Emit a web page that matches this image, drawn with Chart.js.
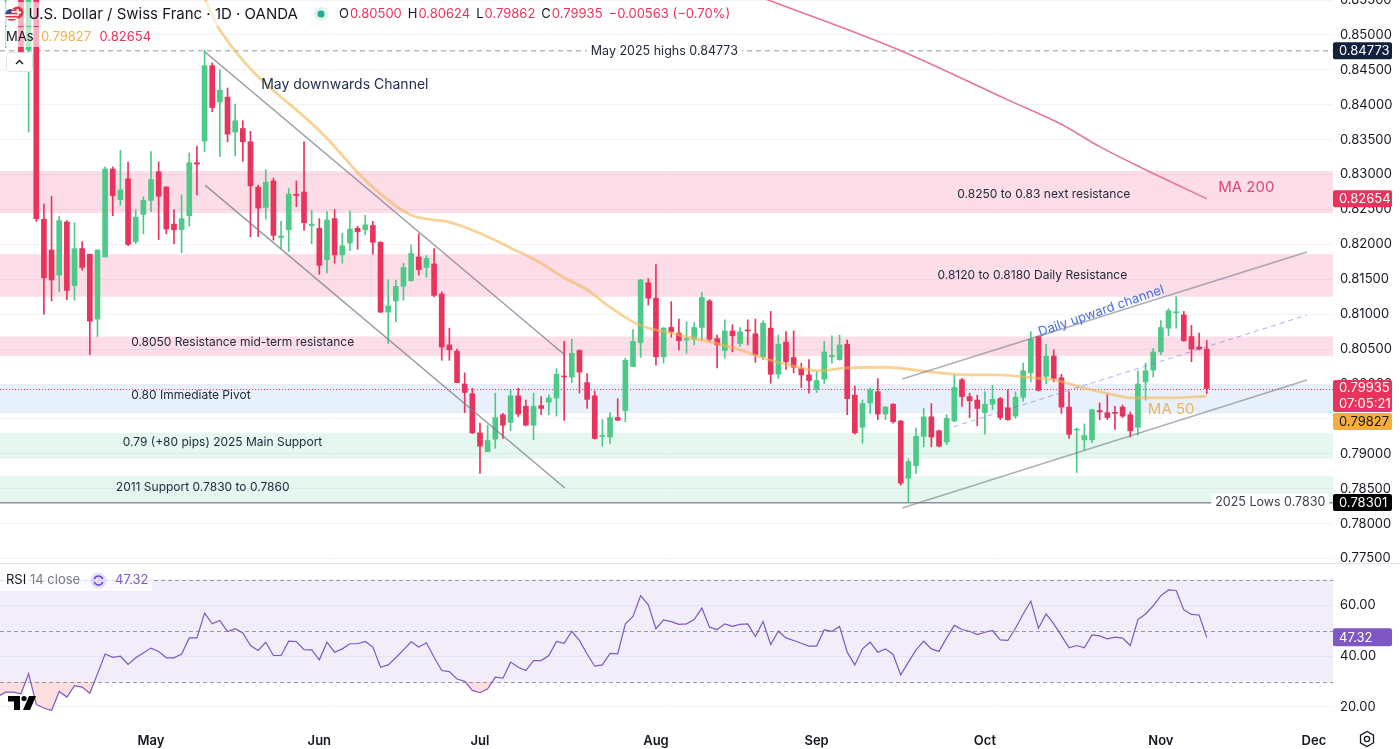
<!DOCTYPE html>
<html>
<head>
<meta charset="utf-8">
<title>USD/CHF 1D</title>
<script src="https://cdn.jsdelivr.net/npm/chart.js@4.4.1/dist/chart.umd.min.js"></script>
<style>
  html, body { margin: 0; padding: 0; background: #fff; }
  #wrap { position: relative; width: 1400px; height: 749px; overflow: hidden; }
  #priceCanvas { position: absolute; left: 0; top: 0; }
  #rsiCanvas { position: absolute; left: 0; top: 564px; }
  #sep { position: absolute; left: 0; top: 563px; width: 1400px; height: 1px; background: #e0e3eb; }
</style>
</head>
<body>
<div id="wrap">
  <canvas id="priceCanvas" width="1400" height="563"></canvas>
  <div id="sep"></div>
  <canvas id="rsiCanvas" width="1400" height="185"></canvas>
</div>
<script>
const FONT = 'Inter, "Noto Sans", "DejaVu Sans", sans-serif';
const GREEN = '#4fc987';
const RED = '#e8335c';
const TEXT = '#131722';
const NOTE = '#222a3d';

// bar 0 = 1 May 2025, one bar per trading day; first bar is 3 Apr 2025
const firstBar = -20;

const opens = [
  0.8680, 0.8580, 0.8660, 0.8700, 0.8479, 0.8620, 0.8236, 0.8192, 0.8156, 0.8232,
  0.8141, 0.8194, 0.8186, 0.8093, 0.8182, 0.8308, 0.8264, 0.8294, 0.8204, 0.8243,
  0.8263, 0.8304, 0.8282, 0.8229, 0.8221, 0.8241, 0.8317, 0.8348, 0.8456, 0.8404,
  0.8411, 0.8361, 0.8366, 0.8347, 0.8282, 0.8253, 0.8291, 0.8210, 0.8221, 0.8272,
  0.8275, 0.8227, 0.8223, 0.8178, 0.8237, 0.8185, 0.8202, 0.8223, 0.8221, 0.8227,
  0.8203, 0.8103, 0.8119, 0.8140, 0.8148, 0.8182, 0.8167, 0.8172, 0.8129, 0.8056,
  0.8047, 0.8000, 0.7986, 0.7930, 0.7903, 0.7921, 0.7956, 0.7945, 0.7983, 0.7968,
  0.7941, 0.7969, 0.7974, 0.7980, 0.8011, 0.8010, 0.8048, 0.8002, 0.7983, 0.7925,
  0.7924, 0.7952, 0.7962, 0.8025, 0.8059, 0.8145, 0.8123, 0.8039, 0.8081, 0.8073,
  0.8063, 0.8064, 0.8081, 0.8119, 0.8065, 0.8048, 0.8076, 0.8058, 0.8077, 0.8072,
  0.8039, 0.8080, 0.8014, 0.8060, 0.8038, 0.8022, 0.8013, 0.7992, 0.8007, 0.8039,
  0.8035, 0.8057, 0.7984, 0.7938, 0.7973, 0.7989, 0.7957, 0.7971, 0.7947, 0.7865,
  0.7883, 0.7925, 0.7953, 0.7933, 0.7917, 0.7947, 0.8006, 0.7982, 0.7977, 0.7959,
  0.7971, 0.7979, 0.7966, 0.7954, 0.7981, 0.8016, 0.8068, 0.8011, 0.8040, 0.8009,
  0.7967, 0.7934, 0.7920, 0.7920, 0.7962, 0.7959, 0.7959, 0.7967, 0.7956, 0.7938,
  0.8003, 0.8020, 0.8046, 0.8080, 0.8102, 0.8099, 0.8068, 0.8053, 0.80500
];
const highs = [
  0.8750, 0.8700, 0.8740, 0.8720, 0.8660, 0.8640, 0.8258, 0.8269, 0.8240, 0.8234,
  0.8231, 0.8204, 0.8186, 0.8192, 0.8311, 0.8311, 0.8335, 0.8318, 0.8250, 0.8268,
  0.8333, 0.8318, 0.8283, 0.8250, 0.8271, 0.8331, 0.8341, 0.8478, 0.8460, 0.8450,
  0.8424, 0.8401, 0.8377, 0.8362, 0.8285, 0.8307, 0.8295, 0.8233, 0.8280, 0.8291,
  0.8347, 0.8249, 0.8237, 0.8247, 0.8250, 0.8216, 0.8248, 0.8226, 0.8242, 0.8233,
  0.8204, 0.8149, 0.8149, 0.8173, 0.8199, 0.8215, 0.8184, 0.8194, 0.8132, 0.8080,
  0.8050, 0.8016, 0.7994, 0.7944, 0.7941, 0.7987, 0.7958, 0.7991, 0.7994, 0.7977,
  0.7987, 0.7982, 0.7984, 0.8022, 0.8061, 0.8064, 0.8049, 0.8015, 0.7990, 0.7949,
  0.7959, 0.7979, 0.8037, 0.8078, 0.8150, 0.8151, 0.8171, 0.8081, 0.8118, 0.8093,
  0.8089, 0.8088, 0.8131, 0.8121, 0.8070, 0.8092, 0.8085, 0.8081, 0.8092, 0.8093,
  0.8091, 0.8104, 0.8070, 0.8075, 0.8076, 0.8030, 0.8035, 0.8018, 0.8061, 0.8069,
  0.8070, 0.8063, 0.7997, 0.7977, 0.7994, 0.8008, 0.7968, 0.7972, 0.7948, 0.7893,
  0.7937, 0.7965, 0.7972, 0.7934, 0.7956, 0.8013, 0.8008, 0.7987, 0.7984, 0.7989,
  0.7998, 0.7981, 0.7992, 0.7989, 0.8030, 0.8075, 0.8069, 0.8057, 0.8049, 0.8014,
  0.7989, 0.7937, 0.7943, 0.7964, 0.7973, 0.7985, 0.7968, 0.7970, 0.7960, 0.8019,
  0.8030, 0.8051, 0.8091, 0.8108, 0.8125, 0.8104, 0.8084, 0.8073, 0.80624
];
const lows = [
  0.8600, 0.8482, 0.8570, 0.8470, 0.8361, 0.8233, 0.8100, 0.8119, 0.8132, 0.8121,
  0.8120, 0.8163, 0.8042, 0.8068, 0.8182, 0.8241, 0.8256, 0.8198, 0.8201, 0.8215,
  0.8247, 0.8207, 0.8215, 0.8201, 0.8188, 0.8226, 0.8271, 0.8333, 0.8390, 0.8326,
  0.8347, 0.8327, 0.8319, 0.8211, 0.8211, 0.8236, 0.8206, 0.8194, 0.8190, 0.8254,
  0.8220, 0.8201, 0.8157, 0.8159, 0.8173, 0.8173, 0.8191, 0.8193, 0.8214, 0.8186,
  0.8102, 0.8058, 0.8089, 0.8120, 0.8147, 0.8156, 0.8153, 0.8125, 0.8034, 0.8034,
  0.8002, 0.7959, 0.7929, 0.7872, 0.7903, 0.7908, 0.7922, 0.7933, 0.7953, 0.7940,
  0.7920, 0.7956, 0.7956, 0.7954, 0.7948, 0.8002, 0.7987, 0.7965, 0.7921, 0.7911,
  0.7915, 0.7948, 0.7946, 0.8025, 0.8038, 0.8113, 0.8027, 0.8030, 0.8067, 0.8049,
  0.8044, 0.8056, 0.8062, 0.8061, 0.8023, 0.8037, 0.8046, 0.8054, 0.8056, 0.8031,
  0.8035, 0.8001, 0.8008, 0.8021, 0.8016, 0.7995, 0.7987, 0.7988, 0.8001, 0.8030,
  0.8034, 0.7956, 0.7928, 0.7915, 0.7958, 0.7949, 0.7949, 0.7944, 0.7855, 0.7830,
  0.7872, 0.7910, 0.7910, 0.7910, 0.7913, 0.7946, 0.7968, 0.7952, 0.7940, 0.7928,
  0.7963, 0.7949, 0.7948, 0.7951, 0.7975, 0.8003, 0.7990, 0.8000, 0.8003, 0.7958,
  0.7922, 0.7873, 0.7906, 0.7916, 0.7949, 0.7949, 0.7935, 0.7952, 0.7924, 0.7927,
  0.7977, 0.8010, 0.8042, 0.8069, 0.8080, 0.8061, 0.8032, 0.8049, 0.79862
];
const closes = [
  0.8650, 0.8660, 0.8700, 0.8475, 0.8620, 0.8237, 0.8152, 0.8149, 0.8234, 0.8134,
  0.8194, 0.8167, 0.8090, 0.8192, 0.8308, 0.8270, 0.8278, 0.8200, 0.8239, 0.8263,
  0.8293, 0.8269, 0.8222, 0.8221, 0.8237, 0.8317, 0.8315, 0.8456, 0.8396, 0.8421,
  0.8358, 0.8377, 0.8347, 0.8284, 0.8252, 0.8289, 0.8213, 0.8212, 0.8272, 0.8270,
  0.8231, 0.8229, 0.8170, 0.8235, 0.8185, 0.8198, 0.8222, 0.8218, 0.8228, 0.8203,
  0.8103, 0.8112, 0.8140, 0.8167, 0.8187, 0.8164, 0.8180, 0.8127, 0.8053, 0.8049,
  0.8002, 0.7988, 0.7930, 0.7911, 0.7919, 0.7952, 0.7941, 0.7983, 0.7957, 0.7941,
  0.7968, 0.7965, 0.7980, 0.8014, 0.8010, 0.8044, 0.8017, 0.7978, 0.7922, 0.7926,
  0.7952, 0.7948, 0.8034, 0.8061, 0.8149, 0.8123, 0.8039, 0.8080, 0.8075, 0.8062,
  0.8065, 0.8081, 0.8124, 0.8064, 0.8056, 0.8076, 0.8069, 0.8075, 0.8076, 0.8042,
  0.8087, 0.8014, 0.8057, 0.8032, 0.8024, 0.8013, 0.8005, 0.8005, 0.8046, 0.8041,
  0.8056, 0.7979, 0.7930, 0.7972, 0.7992, 0.7957, 0.7967, 0.7946, 0.7858, 0.7889,
  0.7925, 0.7953, 0.7924, 0.7911, 0.7951, 0.7995, 0.7982, 0.7976, 0.7965, 0.7971,
  0.7978, 0.7952, 0.7949, 0.7981, 0.8019, 0.8064, 0.7991, 0.8040, 0.8008, 0.7967,
  0.7928, 0.7935, 0.7926, 0.7963, 0.7960, 0.7952, 0.7958, 0.7954, 0.7933, 0.8000,
  0.8019, 0.8046, 0.8081, 0.8105, 0.8103, 0.8062, 0.8050, 0.8050, 0.79935
];
const rsiValues = [
  24.2, 25.8, 25.8, 25.2, 33.0, 21.0, 19.6, 18.6, 26.1, 23.9,
  28.4, 27.8, 25.4, 33.0, 40.8, 39.5, 39.9, 36.7, 39.3, 41.2,
  43.1, 41.8, 39.3, 39.3, 40.8, 47.1, 47.1, 56.8, 52.6, 53.9,
  49.6, 50.7, 49.0, 44.1, 42.2, 45.4, 40.2, 40.2, 45.8, 45.7,
  42.5, 42.4, 38.5, 45.4, 41.5, 42.8, 44.8, 44.8, 45.7, 43.5,
  35.6, 36.5, 39.3, 42.4, 45.6, 43.5, 45.2, 39.5, 34.3, 33.9,
  31.0, 30.1, 26.5, 25.6, 27.1, 31.7, 31.3, 37.6, 35.6, 34.3,
  38.2, 38.2, 40.2, 45.7, 45.0, 49.7, 46.1, 40.8, 36.0, 36.5,
  41.0, 40.8, 52.6, 55.5, 63.7, 60.1, 50.7, 54.2, 53.5, 52.4,
  52.6, 54.3, 58.8, 51.3, 50.4, 52.6, 51.6, 52.4, 52.6, 47.6,
  53.5, 44.5, 49.7, 47.1, 46.1, 45.0, 43.9, 43.9, 50.3, 49.7,
  51.6, 41.5, 36.5, 42.8, 45.4, 41.5, 42.8, 40.6, 32.6, 37.6,
  42.4, 45.8, 42.8, 41.8, 47.1, 52.0, 50.4, 49.7, 48.4, 49.3,
  50.0, 46.3, 46.1, 50.9, 56.5, 61.5, 50.9, 56.5, 52.6, 48.0,
  43.2, 44.1, 43.2, 48.3, 47.9, 46.7, 47.4, 47.0, 44.1, 54.3,
  56.5, 59.7, 63.7, 65.9, 65.7, 58.1, 56.3, 56.1, 47.32
];

// moving averages at a few bars
const ma50Bars = [5, 7, 9, 23, 28, 34, 39, 43, 47, 51, 54, 57, 60, 63, 65, 68, 72, 76, 81, 85, 87, 91, 96, 102, 107, 111, 115, 118, 122, 126, 128, 133, 138];
const ma50Values = [0.8585, 0.8552, 0.8507, 0.8352, 0.8292, 0.8242, 0.8232, 0.8216, 0.8195, 0.8173, 0.8152, 0.8135, 0.8110, 0.8089, 0.8080, 0.8073, 0.8063, 0.8052, 0.8034, 0.8023, 0.8019, 0.8023, 0.8024, 0.8017, 0.8013, 0.8013, 0.8009, 0.8006, 0.7994, 0.7984, 0.7980, 0.7980, 0.79827];
const ma200Bars = [79, 98, 112, 119, 124, 130, 138];
const ma200Values = [0.8557, 0.84775, 0.8407, 0.8372, 0.8340, 0.8307, 0.82654];

const priceTicks = [0.775, 0.78, 0.785, 0.79, 0.795, 0.80, 0.805, 0.81, 0.815, 0.82, 0.825, 0.83, 0.835, 0.84, 0.845, 0.85, 0.855];
const rsiTicks = [20, 40, 60];
const monthBars = [0, 22, 43, 66, 87, 109, 132, 152];
const monthLabels = ['May', 'Jun', 'Jul', 'Aug', 'Sep', 'Oct', 'Nov', 'Dec'];

const lastPrice = 0.79935, ma50Last = 0.79827, ma200Last = 0.82654;
const mayHigh = 0.84773, yearLow = 0.78301, rsiLast = 47.32;

// visible window
const viewFirst = -19.74, viewLast = 154.5;
const priceMin = 0.77436, priceMax = 0.85501;
const rsiMin = 12.94, rsiMax = 75.69;

// drawings on the price pane
const zones = [
  { from: 0.8245, to: 0.8305, color: 'rgba(233,30,99,0.15)' },
  { from: 0.8125, to: 0.8186, color: 'rgba(233,30,99,0.15)' },
  { from: 0.8040, to: 0.8068, color: 'rgba(233,30,99,0.15)' },
  { from: 0.7958, to: 0.7999, color: 'rgba(33,120,220,0.10)' },
  { from: 0.7893, to: 0.7930, color: 'rgba(38,190,120,0.12)' },
  { from: 0.7829, to: 0.7868, color: 'rgba(38,190,120,0.12)' }
];
const trendLines = [
  { a: [7.06, 0.84756], b: [54.1, 0.80415], color: 'rgba(120,123,134,0.75)', width: 1.5, dash: [] },
  { a: [7.06, 0.8285], b: [54.1, 0.7851], color: 'rgba(120,123,134,0.75)', width: 1.5, dash: [] },
  { a: [98.2, 0.80071], b: [151.1, 0.81891], color: 'rgba(120,123,134,0.6)', width: 1.5, dash: [] },
  { a: [98.2, 0.78223], b: [151.1, 0.80057], color: 'rgba(120,123,134,0.6)', width: 1.5, dash: [] },
  { a: [104.9, 0.79388], b: [151.1, 0.80988], color: 'rgba(90,110,230,0.55)', width: 1, dash: [5, 4] }
];
const notes = [
  { text: 'May downwards Channel', bar: 14.4, price: 0.8428, size: 14, color: '#1c2b4d' },
  { text: '0.8250 to 0.83 next resistance', bar: 116.7, price: 0.8272, align: 'center' },
  { text: '0.8120 to 0.8180 Daily Resistance', bar: 115.2, price: 0.8156, align: 'center' },
  { text: '0.8050 Resistance mid-term resistance', bar: -2.6, price: 0.8059 },
  { text: '0.80 Immediate Pivot', bar: -2.6, price: 0.7983 },
  { text: '0.79 (+80 pips) 2025 Main Support', bar: -3.7, price: 0.7917 },
  { text: '2011 Support 0.7830 to 0.7860', bar: -4.6, price: 0.7852 },
  { text: 'MA 200', bar: 139.5, price: 0.8282, size: 15, color: '#e0457b' },
  { text: 'MA 50', bar: 130.3, price: 0.7963, size: 15, color: '#e6b660' }
];

Chart.defaults.font.family = FONT;

const isUp = k => closes[k] >= opens[k];
const candleColor = ctx => (ctx.dataIndex === undefined || isUp(ctx.dataIndex)) ? GREEN : RED;

function textAt(ctx, str, x, y, opt) {
  opt = opt || {};
  ctx.save();
  ctx.font = (opt.weight || 400) + ' ' + (opt.size || 12) + 'px ' + FONT;
  ctx.textAlign = opt.align || 'left';
  ctx.textBaseline = 'middle';
  const w = ctx.measureText(str).width;
  if (opt.bg) {
    const left = opt.align === 'center' ? x - w / 2 : opt.align === 'right' ? x - w : x;
    ctx.fillStyle = opt.bg;
    ctx.fillRect(left - 4, y - 9, w + 8, 18);
  }
  ctx.fillStyle = opt.color || NOTE;
  ctx.fillText(str, x, y);
  ctx.restore();
  return w;
}

function hLine(ctx, area, y, color, width, dash) {
  ctx.save();
  ctx.strokeStyle = color;
  ctx.lineWidth = width;
  ctx.setLineDash(dash);
  ctx.beginPath();
  ctx.moveTo(area.left, y);
  ctx.lineTo(area.right, y);
  ctx.stroke();
  ctx.restore();
}

function axisBox(ctx, left, top, h, bg, fg, lines) {
  ctx.save();
  ctx.fillStyle = bg;
  ctx.beginPath();
  ctx.roundRect(left, top, 59, h, 2);
  ctx.fill();
  ctx.fillStyle = fg;
  ctx.font = '13px ' + FONT;
  ctx.textBaseline = 'middle';
  ctx.textAlign = 'left';
  const step = h / lines.length;
  lines.forEach((s, k) => ctx.fillText(s, left + 6, top + step * k + step / 2 + 0.5));
  ctx.restore();
}

const priceOverlay = {
  id: 'priceOverlay',
  beforeDatasetsDraw(chart) {
    const { ctx, chartArea: a, scales: { y } } = chart;
    ctx.save();
    ctx.beginPath();
    ctx.rect(a.left, a.top, a.width, a.height);
    ctx.clip();
    zones.forEach(z => {
      const y1 = y.getPixelForValue(z.to), y2 = y.getPixelForValue(z.from);
      ctx.fillStyle = z.color;
      ctx.fillRect(a.left, y1, a.width, y2 - y1);
    });
    hLine(ctx, a, y.getPixelForValue(mayHigh), '#9598a1', 1, [5, 4]);
    hLine(ctx, a, y.getPixelForValue(0.7830), '#8f939d', 1.5, []);
    hLine(ctx, a, Math.round(y.getPixelForValue(lastPrice)) + 0.5, RED, 1, [1, 2]);
    ctx.restore();
  },
  afterDatasetsDraw(chart) {
    const { ctx, chartArea: a, scales: { x, y } } = chart;
    ctx.save();
    ctx.beginPath();
    ctx.rect(a.left, a.top, a.width, a.height);
    ctx.clip();
    trendLines.forEach(t => {
      ctx.save();
      ctx.strokeStyle = t.color;
      ctx.lineWidth = t.width;
      ctx.setLineDash(t.dash);
      ctx.beginPath();
      ctx.moveTo(x.getPixelForValue(t.a[0]), y.getPixelForValue(t.a[1]));
      ctx.lineTo(x.getPixelForValue(t.b[0]), y.getPixelForValue(t.b[1]));
      ctx.stroke();
      ctx.restore();
    });
    notes.forEach(n => textAt(ctx, n.text, x.getPixelForValue(n.bar), y.getPixelForValue(n.price),
      { size: n.size, color: n.color, align: n.align }));

    // upward channel caption, along the upper line
    const up = trendLines[2];
    const ang = Math.atan2(y.getPixelForValue(up.b[1]) - y.getPixelForValue(up.a[1]),
      x.getPixelForValue(up.b[0]) - x.getPixelForValue(up.a[0])) - 0.03;
    ctx.save();
    ctx.translate(x.getPixelForValue(124.2), y.getPixelForValue(0.81046));
    ctx.rotate(ang);
    textAt(ctx, 'Daily upward channel', 0, 0, { size: 13, color: '#4a6fe3', align: 'center' });
    ctx.restore();

    textAt(ctx, 'May 2025 highs 0.84773', x.getPixelForValue(67.1), y.getPixelForValue(mayHigh),
      { align: 'center', bg: '#fff', size: 12.5 });
    textAt(ctx, '2025 Lows 0.7830', x.getPixelForValue(153.5), y.getPixelForValue(0.7830),
      { align: 'right', bg: '#fff', size: 12.5, color: '#3b4150' });

    // legend backdrop + legend
    ctx.fillStyle = 'rgba(255,255,255,0.6)';
    ctx.fillRect(0, 2, 740, 24);
    ctx.fillRect(0, 27, 156, 20);

    // currency flags
    ctx.save();
    ctx.beginPath(); ctx.arc(17.5, 12.5, 6, 0, Math.PI * 2); ctx.fillStyle = '#e5333f'; ctx.fill();
    ctx.fillStyle = '#fff';
    ctx.fillRect(16.5, 9, 2.2, 7); ctx.fillRect(14, 11.4, 7, 2.2);
    ctx.beginPath(); ctx.arc(11.5, 15, 6.2, 0, Math.PI * 2); ctx.fillStyle = '#fff'; ctx.fill();
    ctx.save(); ctx.clip();
    ctx.fillStyle = '#d9353f';
    for (let s = 0; s < 4; s++) ctx.fillRect(5, 9.5 + s * 3.2, 13, 1.6);
    ctx.fillStyle = '#3a4a8c'; ctx.fillRect(5, 8.5, 6.5, 5.5);
    ctx.restore();
    ctx.restore();

    textAt(ctx, 'U.S. Dollar / Swiss Franc · 1D · OANDA', 28.5, 14, { size: 15, color: TEXT });
    ctx.beginPath(); ctx.arc(321, 14, 7, 0, Math.PI * 2); ctx.fillStyle = 'rgba(34,171,148,0.15)'; ctx.fill();
    ctx.beginPath(); ctx.arc(321, 14, 3.5, 0, Math.PI * 2); ctx.fillStyle = '#22ab94'; ctx.fill();
    let cx = 339;
    [['O', TEXT], ['0.80500', RED, 6], ['H', TEXT], ['0.80624', RED, 6], ['L', TEXT], ['0.79862', RED, 6],
     ['C', TEXT], ['0.79935', RED, 6], ['\u22120.00563 (\u22120.70%)', RED]].forEach(p => {
      cx += textAt(ctx, p[0], cx, 14, { size: 13, color: p[1] }) + (p[2] || 1);
    });
    textAt(ctx, 'MAs', 6, 37, { size: 13, color: TEXT });
    textAt(ctx, '0.79827', 41, 37, { size: 13, color: '#f0b24e' });
    textAt(ctx, '0.82654', 99.5, 37, { size: 13, color: RED });

    // collapse button
    ctx.save();
    ctx.fillStyle = '#fff';
    ctx.strokeStyle = '#e0e3eb';
    ctx.lineWidth = 1;
    ctx.beginPath(); ctx.roundRect(6.5, 52.5, 26, 19, 3); ctx.fill(); ctx.stroke();
    ctx.strokeStyle = TEXT; ctx.lineWidth = 1.4;
    ctx.beginPath(); ctx.moveTo(16, 64); ctx.lineTo(19.5, 60.5); ctx.lineTo(23, 64); ctx.stroke();
    ctx.restore();
    ctx.restore();
  },
  afterDraw(chart) {
    const { ctx, chartArea: a, scales: { y } } = chart;
    const L = a.right;
    axisBox(ctx, L, y.getPixelForValue(mayHigh) - 8.5, 17, '#13213f', '#fff', ['0.84773']);
    axisBox(ctx, L, y.getPixelForValue(ma200Last) - 8.5, 17, RED, '#fff', ['0.82654']);
    const top = y.getPixelForValue(lastPrice) - 8.5;
    axisBox(ctx, L, top, 32, RED, '#fff', ['0.79935', '07:05:21']);
    axisBox(ctx, L, top + 33, 17, '#f4ae3d', TEXT, ['0.79827']);
    axisBox(ctx, L, y.getPixelForValue(yearLow) - 8.5, 17, '#000', '#fff', ['0.78301']);
  }
};

const candleBars = opens.map((o, k) => firstBar + k);

new Chart(document.getElementById('priceCanvas'), {
  type: 'bar',
  data: {
    datasets: [
      {
        label: 'wick',
        data: candleBars.map((b, k) => ({ x: b, y: [lows[k], highs[k]] })),
        backgroundColor: candleColor,
        barThickness: 1,
        grouped: false,
        order: 3
      },
      {
        label: 'body',
        data: candleBars.map((b, k) => ({ x: b, y: [opens[k], closes[k]] })),
        backgroundColor: candleColor,
        barThickness: 5,
        minBarLength: 1,
        grouped: false,
        order: 2
      },
      {
        type: 'line',
        label: 'MA 50',
        data: ma50Bars.map((b, k) => ({ x: b, y: ma50Values[k] })),
        borderColor: 'rgba(243,182,84,0.6)',
        borderWidth: 2.8,
        pointRadius: 0,
        cubicInterpolationMode: 'monotone',
        order: 1
      },
      {
        type: 'line',
        label: 'MA 200',
        data: ma200Bars.map((b, k) => ({ x: b, y: ma200Values[k] })),
        borderColor: '#e5749b',
        borderWidth: 1.6,
        pointRadius: 0,
        cubicInterpolationMode: 'monotone',
        order: 1
      }
    ]
  },
  options: {
    responsive: false,
    animation: false,
    events: [],
    layout: { padding: 0 },
    plugins: { legend: { display: false }, tooltip: { enabled: false } },
    scales: {
      x: { type: 'linear', min: viewFirst, max: viewLast, offset: false, display: false },
      y: {
        position: 'right',
        min: priceMin,
        max: priceMax,
        grid: { color: '#f0f3fa', drawTicks: false },
        border: { display: false },
        afterBuildTicks: s => { s.ticks = priceTicks.map(v => ({ value: v })); },
        afterFit: s => { s.width = 67; s.paddingTop = 0; s.paddingBottom = 0; },
        ticks: { padding: 7, color: TEXT, font: { size: 13 }, callback: v => v.toFixed(5) }
      }
    }
  },
  plugins: [priceOverlay]
});

const rsiOverlay = {
  id: 'rsiOverlay',
  beforeDatasetsDraw(chart) {
    const { ctx, chartArea: a, scales: { y } } = chart;
    ctx.save();
    const y70 = y.getPixelForValue(70), y30 = y.getPixelForValue(30);
    ctx.fillStyle = 'rgba(126,87,194,0.1)';
    ctx.fillRect(a.left, y70, a.width, y30 - y70);
    [70, 50, 30].forEach(v => hLine(ctx, a, Math.round(y.getPixelForValue(v)) + 0.5, '#9598a1', 1, [4, 3]));
    ctx.restore();
  },
  afterDraw(chart) {
    const { ctx, chartArea: a, scales: { y } } = chart;
    // indicator legend
    ctx.fillStyle = 'rgba(255,255,255,0.7)';
    ctx.fillRect(0, 5, 152, 22);
    textAt(ctx, 'RSI', 6, 16.5, { size: 13, color: TEXT });
    textAt(ctx, '14 close', 30, 16.5, { size: 13, color: '#787b86' });
    ctx.save();
    ctx.beginPath(); ctx.arc(98.5, 16.5, 8, 0, Math.PI * 2); ctx.fillStyle = 'rgba(126,87,194,0.18)'; ctx.fill();
    ctx.strokeStyle = '#6a3ff0'; ctx.lineWidth = 1.6;
    ctx.beginPath(); ctx.arc(98.5, 16.5, 4.5, Math.PI * 1.1, Math.PI * 1.9); ctx.stroke();
    ctx.beginPath(); ctx.arc(98.5, 16.5, 4.5, Math.PI * 0.1, Math.PI * 0.9); ctx.stroke();
    ctx.restore();
    textAt(ctx, '47.32', 115, 16.5, { size: 13, color: '#7e57c2' });

    axisBox(ctx, a.right, y.getPixelForValue(rsiLast) - 9, 18, '#7e57c2', '#fff', ['47.32']);

    // logo
    ctx.save();
    ctx.fillStyle = '#000';
    ctx.fillRect(8, 132, 12, 5.5);
    ctx.fillRect(14, 132, 6, 14);
    ctx.beginPath(); ctx.arc(24, 134.5, 2.6, 0, Math.PI * 2); ctx.fill();
    ctx.beginPath(); ctx.moveTo(29, 132); ctx.lineTo(36, 132); ctx.lineTo(30, 146); ctx.lineTo(23, 146); ctx.closePath(); ctx.fill();
    ctx.restore();

    // settings glyph at the axis corner
    ctx.save();
    ctx.strokeStyle = TEXT; ctx.lineWidth = 1.3;
    ctx.beginPath();
    for (let s = 0; s < 6; s++) {
      const t = Math.PI / 6 + s * Math.PI / 3;
      const px = 1367 + 7.5 * Math.cos(t), py = 175 + 7.5 * Math.sin(t);
      if (s === 0) ctx.moveTo(px, py); else ctx.lineTo(px, py);
    }
    ctx.closePath(); ctx.stroke();
    ctx.beginPath(); ctx.arc(1367, 175, 2.6, 0, Math.PI * 2); ctx.stroke();
    ctx.restore();
  }
};

new Chart(document.getElementById('rsiCanvas'), {
  type: 'line',
  data: {
    datasets: [{
      label: 'RSI 14',
      data: rsiValues.map((v, k) => ({ x: firstBar + k, y: v })),
      borderColor: '#7e57c2',
      borderWidth: 1.2,
      pointRadius: 0,
      tension: 0,
      fill: { target: { value: 30 }, above: 'rgba(0,0,0,0)', below: 'rgba(242,54,69,0.16)' }
    }]
  },
  options: {
    responsive: false,
    animation: false,
    events: [],
    layout: { padding: { top: 1 } },
    plugins: { legend: { display: false }, tooltip: { enabled: false } },
    scales: {
      x: {
        type: 'linear', min: viewFirst, max: viewLast, offset: false,
        grid: { display: false }, border: { display: false },
        afterBuildTicks: s => { s.ticks = monthBars.map(v => ({ value: v })); },
        afterFit: s => { s.height = 24; s.paddingLeft = 0; s.paddingRight = 0; },
        ticks: {
          padding: 0, maxRotation: 0, autoSkip: false, color: TEXT,
          font: { size: 13, weight: '600' },
          callback: v => monthLabels[monthBars.indexOf(v)]
        }
      },
      y: {
        position: 'right', min: rsiMin, max: rsiMax,
        grid: { color: '#f0f3fa', drawTicks: false },
        border: { display: false },
        afterBuildTicks: s => { s.ticks = rsiTicks.map(v => ({ value: v })); },
        afterFit: s => { s.width = 67; s.paddingTop = 0; s.paddingBottom = 0; },
        ticks: { padding: 7, color: TEXT, font: { size: 13 }, callback: v => v.toFixed(2) }
      }
    }
  },
  plugins: [rsiOverlay]
});
</script>
</body>
</html>
